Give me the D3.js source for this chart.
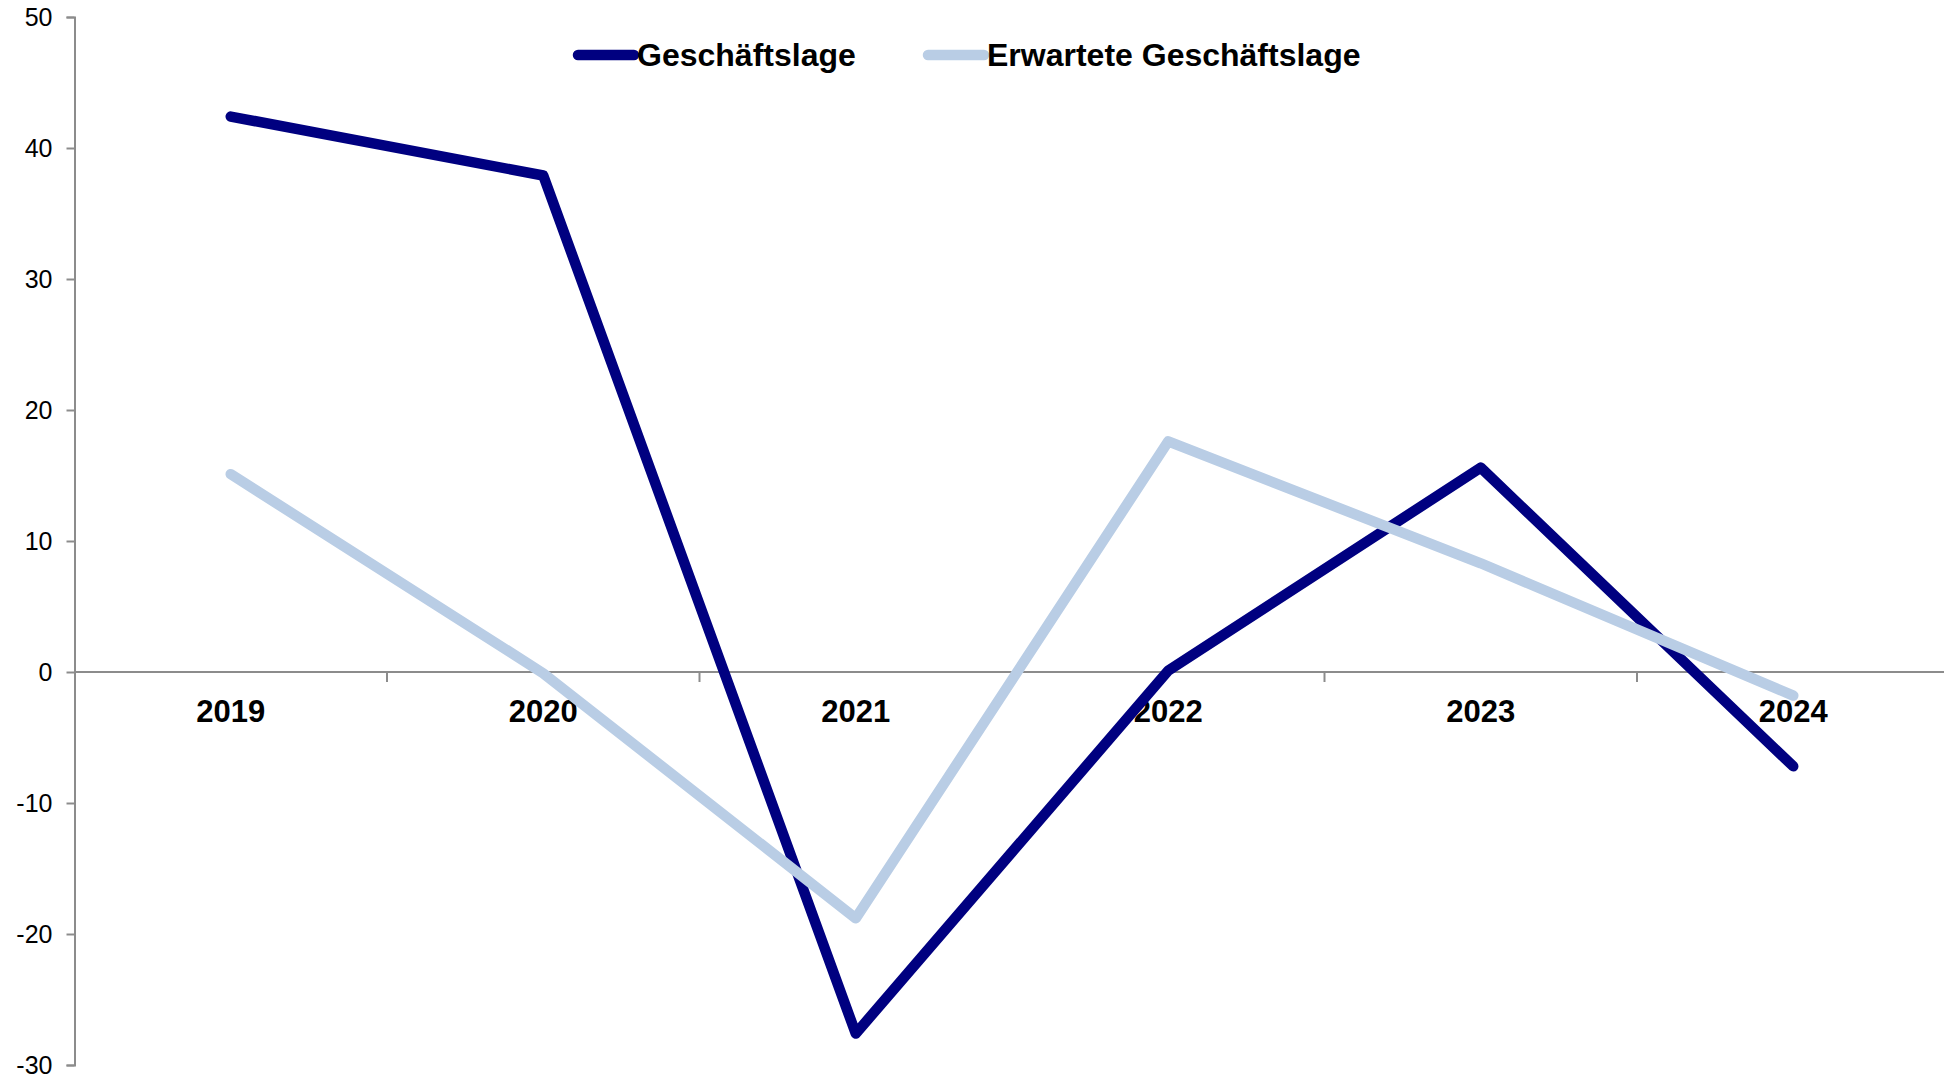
<!DOCTYPE html>
<html>
<head>
<meta charset="utf-8">
<script src="https://cdn.jsdelivr.net/npm/d3@7"></script>
<style>
  body { margin: 0; background: #fff; }
  text { font-family: "Liberation Sans", Arial, sans-serif; }
</style>
</head>
<body>
<div id="chart"></div>
<script>
// data
var years = ["2019", "2020", "2021", "2022", "2023", "2024"];
var lage = [42.4, 37.9, -27.6, 0.1, 15.6, -7.2];
var erwartet = [15.1, -0.1, -18.8, 17.6, 8.3, -1.8];
var yTicks = [-30, -20, -10, 0, 10, 20, 30, 40, 50];

var width = 1944;
var height = 1078;

var x_axis = d3.scaleBand().domain(years).range([74.5, 74.5 + 312.5 * 6]);
var y_axis = d3.scaleLinear().domain([-30, 50]).range([1065, 17]);

var svg = d3.select("#chart").append("svg")
  .attr("width", width)
  .attr("height", height);

// y axis (plain hyphen for negatives, like the original)
var yAxis = svg.append("g")
  .attr("transform", "translate(74.5,0)")
  .call(d3.axisLeft(y_axis).tickValues(yTicks).tickSize(8).tickPadding(14)
    .tickFormat(function(d) { return String(d); }));
yAxis.select(".domain").attr("stroke", "#8c8c8c").attr("stroke-width", 2);
yAxis.selectAll(".tick line").attr("stroke", "#8c8c8c").attr("stroke-width", 2);
yAxis.selectAll(".tick text")
  .attr("font-size", 25)
  .attr("fill", "#000")
  .style("font-family", "'Liberation Sans', Arial, sans-serif");

// zero line with category ticks
var xAxis = svg.append("g")
  .attr("transform", "translate(0," + y_axis(0) + ")");
xAxis.append("line")
  .attr("x1", 74.5).attr("x2", width)
  .attr("stroke", "#8c8c8c").attr("stroke-width", 2);
xAxis.selectAll(".ctick")
  .data(years.slice(1))
  .enter().append("line")
  .attr("x1", function(d) { return x_axis(d); })
  .attr("x2", function(d) { return x_axis(d); })
  .attr("y1", 0).attr("y2", 10)
  .attr("stroke", "#8c8c8c").attr("stroke-width", 2);
xAxis.selectAll(".clabel")
  .data(years)
  .enter().append("text")
  .attr("x", function(d) { return x_axis(d) + x_axis.bandwidth() / 2; })
  .attr("y", 50)
  .attr("text-anchor", "middle")
  .attr("font-size", 31)
  .attr("font-weight", "bold")
  .text(function(d) { return d; });

var line = d3.line()
  .x(function(d, i) { return x_axis(years[i]) + x_axis.bandwidth() / 2; })
  .y(function(d) { return y_axis(d); });

svg.append("path")
  .datum(lage)
  .attr("fill", "none")
  .attr("stroke", "#000080")
  .attr("stroke-width", 10.5)
  .attr("stroke-linejoin", "round")
  .attr("stroke-linecap", "round")
  .attr("d", line);

svg.append("path")
  .datum(erwartet)
  .attr("fill", "none")
  .attr("stroke", "#b9cde5")
  .attr("stroke-width", 10.5)
  .attr("stroke-linejoin", "round")
  .attr("stroke-linecap", "round")
  .attr("d", line);

// legend
var legend = [
  {name: "Geschäftslage", color: "#000080", x: 578},
  {name: "Erwartete Geschäftslage", color: "#b9cde5", x: 928}
];
var lg = svg.selectAll(".legend")
  .data(legend)
  .enter().append("g")
  .attr("transform", function(d) { return "translate(" + d.x + ",55)"; });
lg.append("line")
  .attr("x1", 0).attr("x2", 56)
  .attr("stroke", function(d) { return d.color; })
  .attr("stroke-width", 10.5)
  .attr("stroke-linecap", "round");
lg.append("text")
  .attr("x", 59)
  .attr("y", 11)
  .attr("font-size", 32)
  .attr("font-weight", "bold")
  .text(function(d) { return d.name; });
</script>
</body>
</html>
